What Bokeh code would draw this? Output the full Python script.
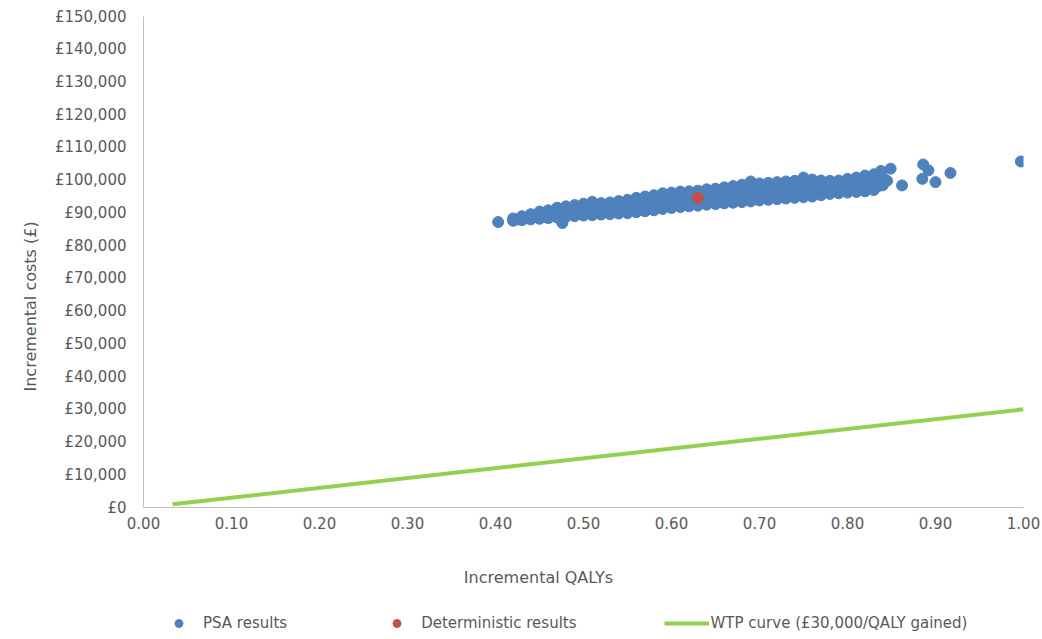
from bokeh.plotting import figure
from bokeh.layouts import column
from bokeh.models import Range1d, FixedTicker, Legend, LegendItem, Title, Label
from bokeh.embed import file_html
from bokeh.resources import INLINE

# ---------------- data ----------------
psa_qalys = [
    0.403,
    0.42, 0.42, 0.425, 0.43, 0.43, 0.435, 0.44, 0.44, 0.445,
    0.45, 0.45, 0.45, 0.455, 0.455, 0.46, 0.46, 0.46, 0.465,
    0.47, 0.47, 0.47, 0.476, 0.48, 0.48, 0.48, 0.485, 0.485,
    0.49, 0.49, 0.49, 0.495, 0.495, 0.50, 0.50, 0.50, 0.505, 0.505,
    0.51, 0.51, 0.51, 0.515, 0.515, 0.52, 0.52, 0.52, 0.525, 0.525,
    0.53, 0.53, 0.53, 0.535, 0.535, 0.54, 0.54, 0.54, 0.545, 0.545,
    0.55, 0.55, 0.55, 0.555, 0.555, 0.56, 0.56, 0.56, 0.565, 0.565,
    0.57, 0.57, 0.57, 0.575, 0.575, 0.58, 0.58, 0.58, 0.585, 0.585,
    0.59, 0.59, 0.59, 0.595, 0.595, 0.60, 0.60, 0.60, 0.605, 0.605,
    0.61, 0.61, 0.61, 0.615, 0.615, 0.62, 0.62, 0.62, 0.625, 0.625,
    0.63, 0.63, 0.63, 0.635, 0.635, 0.64, 0.64, 0.64, 0.645, 0.645,
    0.65, 0.65, 0.65, 0.655, 0.655, 0.66, 0.66, 0.66, 0.665, 0.665,
    0.67, 0.67, 0.67, 0.675, 0.675, 0.68, 0.68, 0.68, 0.685, 0.685,
    0.69, 0.69, 0.69, 0.695, 0.695, 0.70, 0.70, 0.70, 0.705, 0.705,
    0.71, 0.71, 0.71, 0.715, 0.715, 0.72, 0.72, 0.72, 0.725, 0.725,
    0.73, 0.73, 0.73, 0.735, 0.735, 0.74, 0.74, 0.74, 0.745, 0.745,
    0.75, 0.75, 0.75, 0.755, 0.755, 0.76, 0.76, 0.76, 0.765, 0.765,
    0.77, 0.77, 0.77, 0.775, 0.775, 0.78, 0.78, 0.78, 0.785, 0.785,
    0.79, 0.79, 0.79, 0.795, 0.795, 0.80, 0.80, 0.80, 0.805, 0.805,
    0.81, 0.81, 0.81, 0.815, 0.815, 0.82, 0.82, 0.82, 0.825, 0.825,
    0.83, 0.83, 0.83, 0.835, 0.835, 0.84, 0.84, 0.838, 0.845,
    0.849, 0.862, 0.886, 0.892, 0.885, 0.900, 0.917, 0.997,
]
psa_costs = [
    87200,
    87600, 88300, 88000, 87800, 89000, 88400, 88000, 89600, 88900,
    88200, 89300, 90400, 88700, 90000, 88400, 89600, 90800, 89100,
    88600, 90100, 91600, 86900, 88800, 90400, 92000, 89600, 91200,
    89000, 90700, 92400, 89800, 91600, 89200, 91000, 92800, 90100, 92000,
    89300, 91300, 93400, 90300, 92300, 89500, 91300, 93000, 90400, 92200,
    89600, 91400, 93200, 90500, 92400, 89800, 91700, 93600, 90800, 92700,
    89900, 91900, 94000, 91000, 93000, 90200, 92400, 94600, 91300, 93500,
    90500, 92700, 95000, 91600, 93900, 90800, 93100, 95400, 92000, 94300,
    91200, 93600, 96000, 92400, 94800, 91500, 93800, 96200, 92600, 95000,
    91800, 94100, 96500, 92900, 95300, 92000, 94300, 96600, 93100, 95500,
    92200, 94500, 96800, 93300, 95700, 92500, 94800, 97200, 93600, 96000,
    92700, 95000, 97400, 93800, 96200, 92900, 95300, 97800, 94100, 96600,
    93100, 95600, 98200, 94300, 97000, 93300, 95900, 98600, 94600, 97300,
    93500, 96500, 99600, 95000, 98000, 93800, 96400, 99000, 95100, 97700,
    94000, 96600, 99200, 95300, 98000, 94200, 96800, 99400, 95500, 98100,
    94400, 97000, 99600, 95700, 98300, 94600, 97200, 99800, 95900, 98500,
    94800, 97800, 100800, 96300, 99200, 95000, 97600, 100200, 96300, 98900,
    95400, 97600, 99900, 96500, 98700, 95800, 97800, 99800, 96800, 98800,
    96000, 98000, 99900, 97000, 99100, 96200, 98300, 100400, 97200, 99500,
    96400, 98600, 100800, 97500, 99800, 96600, 99000, 101400, 97800, 100200,
    97000, 99400, 101800, 98200, 100600, 98400, 100800, 102800, 99800,
    103500, 98400, 104800, 103000, 100400, 99400, 102200, 105700,
]
det_qalys = [0.630]
det_costs = [94600]
wtp_qalys = [0.033, 1.00]
wtp_costs = [990, 30000]

x_ticks = [0.0, 0.1, 0.2, 0.3, 0.4, 0.5, 0.6, 0.7, 0.8, 0.9, 1.0]
y_ticks = [0, 10000, 20000, 30000, 40000, 50000, 60000, 70000, 80000,
           90000, 100000, 110000, 120000, 130000, 140000, 150000]

series_names = ["PSA results", "Deterministic results", "WTP curve (£30,000/QALY gained)"]
x_title = "Incremental QALYs"
y_title = "Incremental costs (£)"

# ---------------- styling ----------------
FONT = "DejaVu Sans"
TXT = "#595959"
BLUE = "#4F81BD"
RED = "#C0504D"
GREEN = "#92D050"
AXIS = "#BFBFBF"
W = 1042
H_MAIN = 540
H_STRIP = 99

p = figure(width=W, height=H_MAIN, output_backend="svg", toolbar_location=None,
           x_range=Range1d(0, 1.0), y_range=Range1d(0, 150000),
           min_border_left=143, min_border_right=19, min_border_top=16,
           min_border_bottom=33, background_fill_color="white",
           border_fill_color="white", outline_line_color=None)

p.xgrid.visible = False
p.ygrid.visible = False

r_psa = p.scatter(psa_qalys, psa_costs, size=11, color=BLUE, line_color=BLUE)
r_det = p.scatter(det_qalys, det_costs, size=11, color=RED, line_color=RED)
r_wtp = p.line(wtp_qalys, wtp_costs, line_width=4, color=GREEN)

for ax in (p.xaxis[0], p.yaxis[0]):
    ax.axis_line_color = AXIS
    ax.axis_line_width = 1
    ax.major_tick_line_color = None
    ax.minor_tick_line_color = None
    ax.major_tick_out = 0
    ax.major_tick_in = 0
    ax.major_label_text_font = FONT
    ax.major_label_text_font_size = "15px"
    ax.major_label_text_color = TXT

p.xaxis[0].ticker = FixedTicker(ticks=x_ticks)
p.xaxis[0].major_label_overrides = {t: "{:.2f}".format(t) for t in x_ticks}
p.xaxis[0].major_label_standoff = 9
p.yaxis[0].ticker = FixedTicker(ticks=y_ticks)
p.yaxis[0].major_label_overrides = {t: "£{:,}".format(t) for t in y_ticks}
p.yaxis[0].major_label_standoff = 17

# y-axis title (offset from the frame centre, as in the reference)
p.add_layout(Title(text=y_title, align="left", offset=116, standoff=24,
                   text_font=FONT, text_font_size="16px", text_color=TXT,
                   text_font_style="normal"), "left")

# strip under the chart: x-axis title and legend
pl = figure(width=W, height=H_STRIP, output_backend="svg", toolbar_location=None,
            x_range=Range1d(0, 1), y_range=Range1d(-2, -1),
            x_axis_location=None, y_axis_location=None,
            min_border_left=0, min_border_right=0, min_border_top=0,
            min_border_bottom=0, outline_line_color=None,
            background_fill_color="white", border_fill_color="white")
pl.xgrid.visible = False
pl.ygrid.visible = False

pl.add_layout(Label(x=395, y=62, x_units="screen", y_units="screen", text=x_title,
                    text_align="center", text_baseline="middle", text_font=FONT,
                    text_font_size="16px", text_color=TXT))

# same series, drawn outside this strip's visible range, only to key the legend
l_psa = pl.scatter(psa_qalys, psa_costs, size=9, color=BLUE, line_color=BLUE)
l_det = pl.scatter(det_qalys, det_costs, size=9, color=RED, line_color=RED)
l_wtp = pl.line(wtp_qalys, wtp_costs, line_width=4, color=GREEN)

legend = Legend(items=[LegendItem(label=series_names[0], renderers=[l_psa]),
                       LegendItem(label=series_names[1], renderers=[l_det]),
                       LegendItem(label=series_names[2], renderers=[l_wtp])],
                location=(13, 6), orientation="horizontal",
                glyph_width=45, glyph_height=20, label_height=20,
                label_standoff=2, padding=0, margin=0, spacing=87,
                border_line_color=None, background_fill_alpha=0,
                label_text_font=FONT, label_text_font_size="15px",
                label_text_color=TXT)
pl.add_layout(legend, "center")

layout = column(p, pl, spacing=0)
open("out.html", "w").write(file_html(layout, INLINE))
